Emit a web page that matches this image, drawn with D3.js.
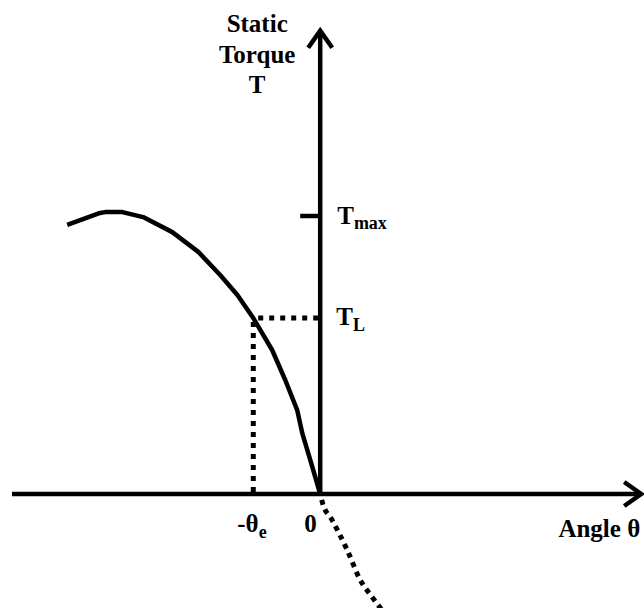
<!DOCTYPE html>
<html>
<head>
<meta charset="utf-8">
<script src="https://cdn.jsdelivr.net/npm/d3@7"></script>
<style>
  html, body { margin: 0; padding: 0; background: #fff; }
  svg { display: block; }
  text { font-family: "Times New Roman", Times, "Liberation Serif", serif; font-weight: 700; fill: #000; }
</style>
</head>
<body>
<svg id="chart" width="644" height="608"></svg>
<script>
// ===== DATA =====
// angle in degrees, torque normalised so that T_max = 1
const stableAngles = [-110, -95.7, -93.5, -86, -77, -64.3, -53, -43.5, -36, -29.1, -20.9, -15.2, -10, -7.8, -4.3, 0];
const stableTorque = [0.968, 1.011, 1.014, 1.014, 0.996, 0.942, 0.871, 0.788, 0.716, 0.633, 0.518, 0.410, 0.302, 0.219, 0.122, 0];
const unstableAngles = [0, 1, 5.2, 11.7, 17.4, 22.6, 27.8];
const unstableTorque = [0, -0.032, -0.094, -0.201, -0.309, -0.371, -0.428];
const angleExtent = [-134, 140];
const torqueExtent = [0, 1.67];
const tMax = 1;
const tLoad = 0.633;
const thetaE = -29.1;
const yTitleLines = ['Static', 'Torque', 'T'];

// ===== CHART =====
const svg = d3.select('#chart');

const x = d3.scaleLinear().domain(angleExtent).range([12, 642.2]);
const y = d3.scaleLinear().domain([0, 1]).range([494, 216]);

const x0 = x(0), y0 = y(0);
const stroke = 4.5;

// axes
const axes = svg.append('g')
    .attr('stroke', '#000')
    .attr('stroke-width', stroke)
    .attr('fill', 'none');

axes.append('line')
    .attr('x1', x(angleExtent[0])).attr('x2', x(angleExtent[1]) - 1)
    .attr('y1', y0).attr('y2', y0);

axes.append('line')
    .attr('x1', x0).attr('x2', x0)
    .attr('y1', y0).attr('y2', y(torqueExtent[1]) + 1);

// arrow heads (open chevrons)
const xTip = x(angleExtent[1]);
const yTip = y(torqueExtent[1]);
axes.append('path')
    .attr('stroke-linejoin', 'miter')
    .attr('d', `M${xTip - 18},${y0 - 12}L${xTip - 1},${y0}L${xTip - 18},${y0 + 12}`);
axes.append('path')
    .attr('stroke-linejoin', 'miter')
    .attr('d', `M${x0 - 12},${yTip + 18}L${x0},${yTip + 1}L${x0 + 12},${yTip + 18}`);

// T_max tick
axes.append('line')
    .attr('x1', x0 - 20).attr('x2', x0)
    .attr('y1', y(tMax)).attr('y2', y(tMax));

// dotted guides to the load point
const guides = svg.append('g')
    .attr('stroke', '#000')
    .attr('stroke-width', 5)
    .attr('stroke-dasharray', '5,6');

guides.append('line')
    .attr('x1', x0 - 2).attr('x2', x(thetaE))
    .attr('y1', y(tLoad)).attr('y2', y(tLoad));

guides.append('line')
    .attr('x1', x(thetaE)).attr('x2', x(thetaE))
    .attr('y1', y0 - 2).attr('y2', y(tLoad));

// torque curve
const line = d3.line()
    .x(d => x(d[0]))
    .y(d => y(d[1]));

svg.append('path')
    .datum(d3.zip(stableAngles, stableTorque))
    .attr('d', line)
    .attr('fill', 'none')
    .attr('stroke', '#000')
    .attr('stroke-width', stroke)
    .attr('stroke-linejoin', 'round');

svg.append('path')
    .datum(d3.zip(unstableAngles, unstableTorque))
    .attr('d', line.curve(d3.curveMonotoneX))
    .attr('fill', 'none')
    .attr('stroke', '#000')
    .attr('stroke-width', 5)
    .attr('stroke-dasharray', '5,5')
    .attr('stroke-dashoffset', -6);

// ===== LABELS =====
const labels = svg.append('g').style('font-size', '25px');

labels.selectAll('.ytitle')
    .data(yTitleLines)
    .join('text')
    .attr('class', 'ytitle')
    .attr('x', x0 - 63)
    .attr('y', (d, i) => 32 + i * 30.5)
    .attr('text-anchor', 'middle')
    .text(d => d);

const tmaxLabel = labels.append('text')
    .attr('x', x0 + 17)
    .attr('y', y(tMax) + 8);
tmaxLabel.append('tspan').text('T');
tmaxLabel.append('tspan').attr('dy', 5).style('font-size', '18px').text('max');

const tlLabel = labels.append('text')
    .attr('x', x0 + 16)
    .attr('y', y(tLoad) + 7);
tlLabel.append('tspan').text('T');
tlLabel.append('tspan').attr('dy', 6).style('font-size', '18px').text('L');

const thetaLabel = labels.append('text')
    .attr('x', x(thetaE) - 16)
    .attr('y', y0 + 38);
thetaLabel.append('tspan').text('-θ');
thetaLabel.append('tspan').attr('dy', 6).style('font-size', '18px').text('e');

labels.append('text')
    .attr('x', x0 - 16)
    .attr('y', y0 + 38)
    .text('0');

labels.append('text')
    .attr('x', xTip - 2)
    .attr('y', y0 + 43)
    .attr('text-anchor', 'end')
    .text('Angle θ');
</script>
</body>
</html>
